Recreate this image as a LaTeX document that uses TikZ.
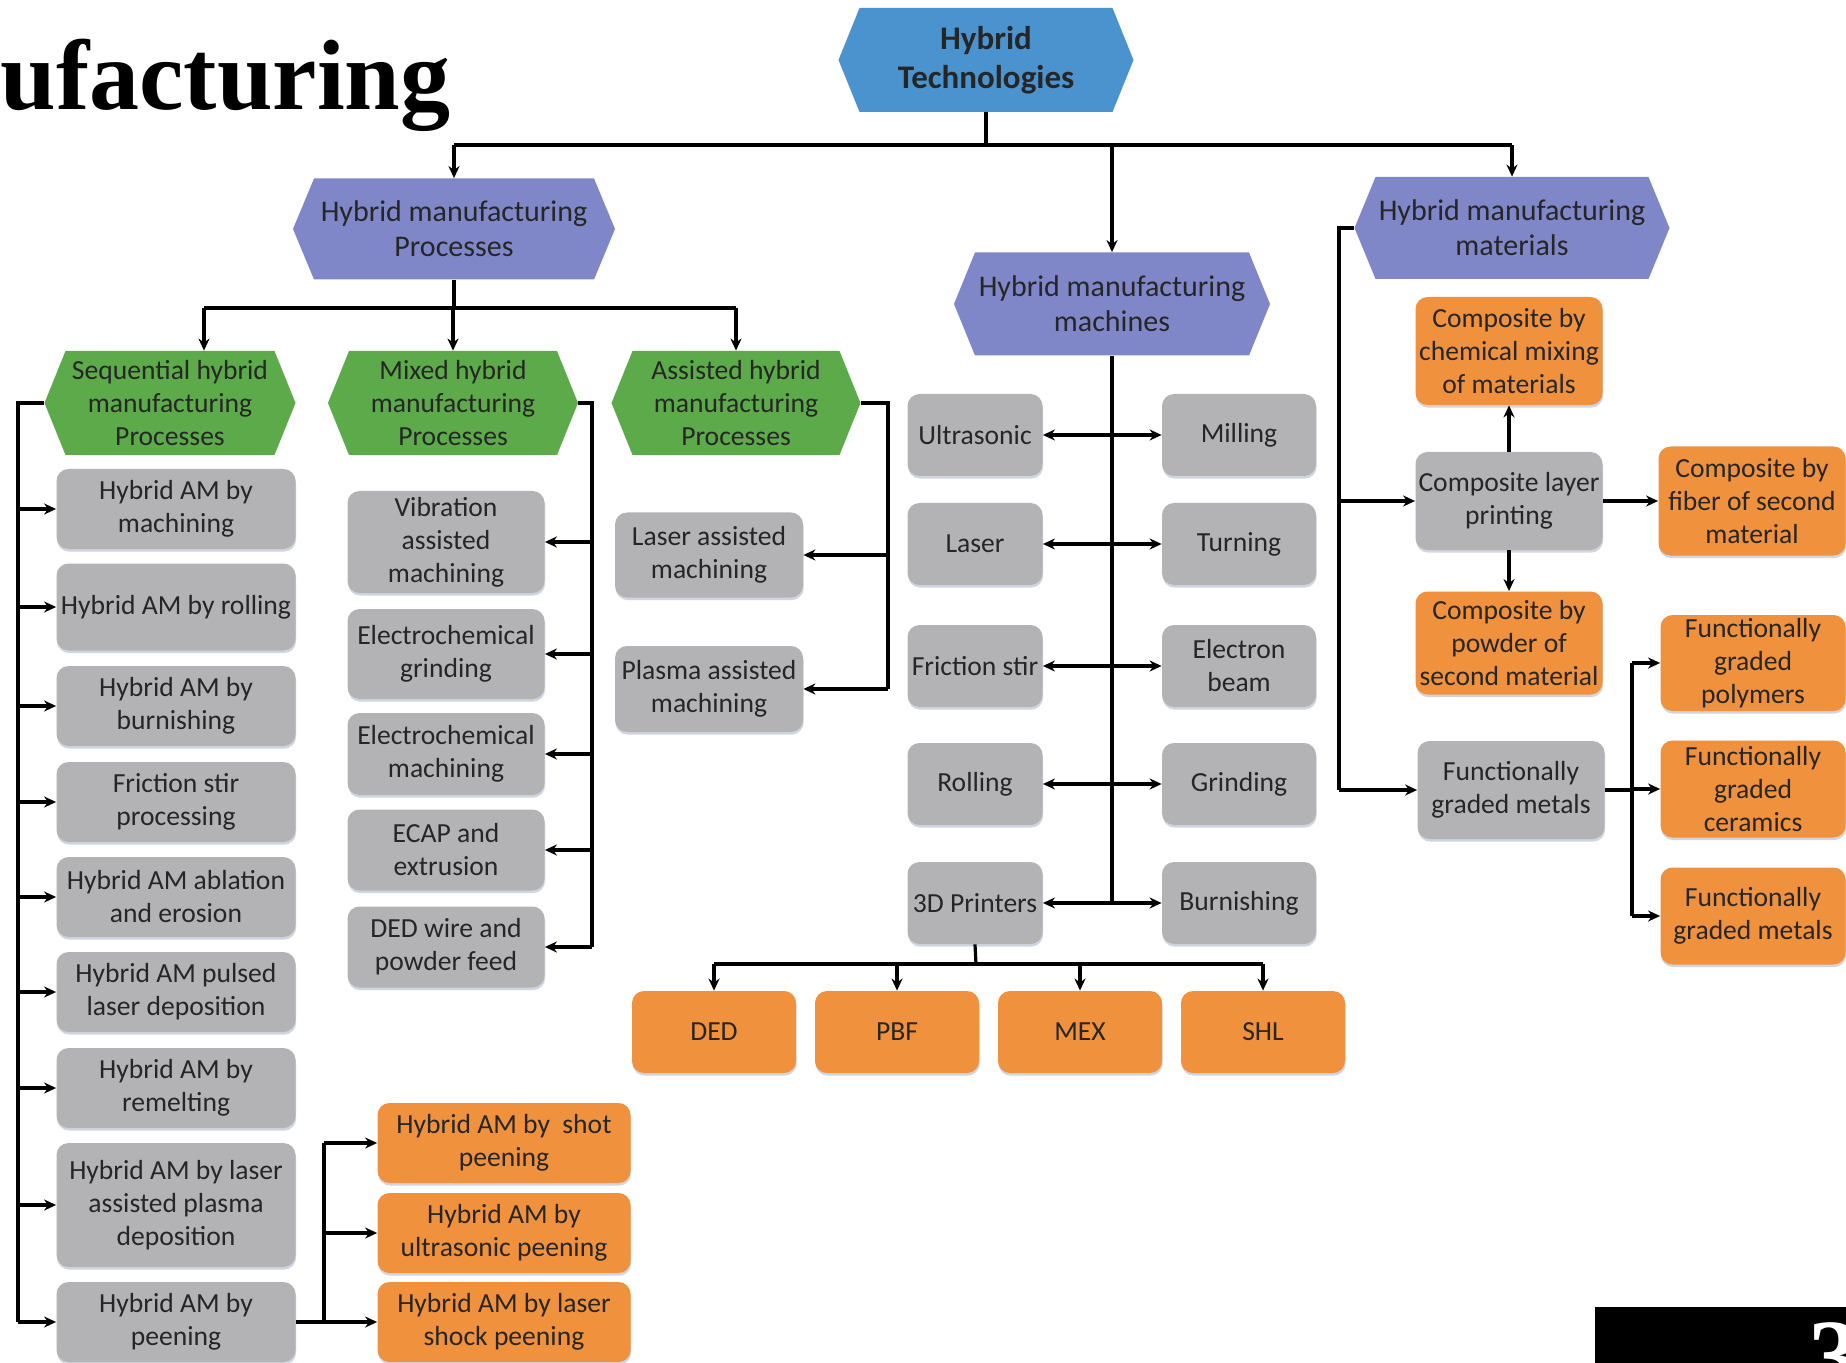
\documentclass[tikz,border=0pt]{standalone}
\usepackage{fontspec}
\setmainfont{Carlito}
\newfontfamily\titlefont{Liberation Serif}
\usetikzlibrary{arrows.meta,shadows}
\definecolor{txt}{HTML}{262626}
\definecolor{boxgray}{HTML}{B3B3B6}
\definecolor{boxorange}{HTML}{F0913D}
\definecolor{htblue}{HTML}{4B93CE}
\definecolor{hpurple}{HTML}{7F87C8}
\definecolor{hgreen}{HTML}{5CAA4A}
\definecolor{shadowc}{HTML}{C5CBD8}
\tikzset{
  bw/.style={minimum width=#1*0.5pt},
  bh/.style={minimum height=#1*0.5pt},
  box/.style={rounded corners=6pt, inner sep=1pt, align=center, text=txt,
    font=\fontsize{13.8}{16.5}\selectfont,
    drop shadow={shadow xshift=0.3pt, shadow yshift=-1.3pt, fill=shadowc, opacity=0.8}},
  gbox/.style={box, fill=boxgray},
  obox/.style={box, fill=boxorange},
  hexa/.style={inner sep=0pt, align=center, text=txt,
    path picture={\fill[#1] ([xshift=10.5pt]path picture bounding box.north west)
      -- ([xshift=-10.5pt]path picture bounding box.north east)
      -- (path picture bounding box.east)
      -- ([xshift=-10.5pt]path picture bounding box.south east)
      -- ([xshift=10.5pt]path picture bounding box.south west)
      -- (path picture bounding box.west) -- cycle;}},
  ln/.style={line width=1.6pt, draw=black},
  arr/.style={ln, -{Stealth[length=6pt,width=5.5pt]}},
  darr/.style={ln, {Stealth[length=6pt,width=5.5pt]}-{Stealth[length=6pt,width=5.5pt]}},
}
\begin{document}
\begin{tikzpicture}[x=0.5pt,y=-0.5pt]
\useasboundingbox[fill=white] (0,0) rectangle (1846,1363);

% title and page number
\node[font=\titlefont\bfseries\fontsize{50}{56}\selectfont, anchor=base east, inner sep=0pt] (title) at (451,110) {Manufacturing};
\node[fill=black, anchor=north west, inner sep=0pt, minimum width=125.5pt, minimum height=28pt] (pgbox) at (1595,1307) {};
\node[text=white, font=\titlefont\bfseries\fontsize{52}{56}\selectfont, anchor=north west, inner sep=0pt] (pnum) at (1808,1322) {3};

% hexagons
\node[hexa=htblue, bw=295, bh=104, font=\bfseries\fontsize{16.5}{19.5}\selectfont] (ht) at (986,60) {Hybrid\\Technologies};
\node[hexa=hpurple, bw=322, bh=101, font=\fontsize{15}{17.5}\selectfont] (proc) at (454,229) {Hybrid manufacturing\\Processes};
\node[hexa=hpurple, bw=316, bh=103, font=\fontsize{15}{17.5}\selectfont] (mach) at (1112,304) {Hybrid manufacturing\\machines};
\node[hexa=hpurple, bw=315, bh=102, font=\fontsize{15}{17.5}\selectfont] (mat) at (1512,228) {Hybrid manufacturing\\materials};
\node[hexa=hgreen, bw=251, bh=104, font=\fontsize{13.8}{16.5}\selectfont] (seq) at (170,403) {Sequential hybrid\\manufacturing\\Processes};
\node[hexa=hgreen, bw=250, bh=104, font=\fontsize{13.8}{16.5}\selectfont] (mix) at (453,403) {Mixed hybrid\\manufacturing\\Processes};
\node[hexa=hgreen, bw=249, bh=104, font=\fontsize{13.8}{16.5}\selectfont] (assist) at (736,403) {Assisted hybrid\\manufacturing\\Processes};

% sequential column
\node[gbox, bw=239, bh=80] (b1) at (176,509) {Hybrid AM by\\machining};
\node[gbox, bw=239, bh=87] (b2) at (176,607) {Hybrid AM by rolling};
\node[gbox, bw=239, bh=80] (b3) at (176,706) {Hybrid AM by\\burnishing};
\node[gbox, bw=239, bh=80] (b4) at (176,802) {Friction stir\\processing};
\node[gbox, bw=239, bh=80] (b5) at (176,897) {Hybrid AM ablation\\and erosion};
\node[gbox, bw=239, bh=80] (b6) at (176,992) {Hybrid AM pulsed\\laser deposition};
\node[gbox, bw=239, bh=80] (b7) at (176,1088) {Hybrid AM by\\remelting};
\node[gbox, bw=239, bh=124] (b8) at (176,1205) {Hybrid AM by laser\\assisted plasma\\deposition};
\node[gbox, bw=239, bh=80] (b9) at (176,1322) {Hybrid AM by\\peening};

% peening
\node[obox, bw=253, bh=80] (p1) at (504,1143) {Hybrid AM by\ \ shot\\peening};
\node[obox, bw=253, bh=80] (p2) at (504,1233) {Hybrid AM by\\ultrasonic peening};
\node[obox, bw=253, bh=80] (p3) at (504,1322) {Hybrid AM by laser\\shock peening};

% mixed column
\node[gbox, bw=197, bh=102] (x1) at (446,542) {Vibration\\assisted\\machining};
\node[gbox, bw=197, bh=90] (x2) at (446,654) {Electrochemical\\grinding};
\node[gbox, bw=197, bh=82] (x3) at (446,754) {Electrochemical\\machining};
\node[gbox, bw=197, bh=81] (x4) at (446,850) {ECAP and\\extrusion};
\node[gbox, bw=197, bh=81] (x5) at (446,947) {DED wire and\\powder feed};

% assisted column
\node[gbox, bw=188, bh=85] (a1) at (709,555) {Laser assisted\\machining};
\node[gbox, bw=188, bh=86] (a2) at (709,689) {Plasma assisted\\machining};

% machines
\node[gbox, bw=135, bh=82] (ml1) at (975,435) {Ultrasonic};
\node[gbox, bw=154, bh=82] (mr1) at (1239,435) {Milling};
\node[gbox, bw=135, bh=82] (ml2) at (975,544) {Laser};
\node[gbox, bw=154, bh=82] (mr2) at (1239,544) {Turning};
\node[gbox, bw=135, bh=82] (ml3) at (975,666) {Friction stir};
\node[gbox, bw=154, bh=82] (mr3) at (1239,666) {Electron\\beam};
\node[gbox, bw=135, bh=82] (ml4) at (975,784) {Rolling};
\node[gbox, bw=154, bh=82] (mr4) at (1239,784) {Grinding};
\node[gbox, bw=135, bh=82] (ml5) at (975,903) {3D Printers};
\node[gbox, bw=154, bh=82] (mr5) at (1239,903) {Burnishing};

\node[obox, bw=164, bh=82] (ded) at (714,1032) {DED};
\node[obox, bw=164, bh=82] (pbf) at (897,1032) {PBF};
\node[obox, bw=164, bh=82] (mex) at (1080,1032) {MEX};
\node[obox, bw=164, bh=82] (shl) at (1263,1032) {SHL};

% materials
\node[gbox, bw=187, bh=98] (clp) at (1509,501) {Composite layer\\printing};
\node[obox, bw=187, bh=108] (chem) at (1509,351) {Composite by\\chemical mixing\\of materials};
\node[obox, bw=187, bh=103] (pow) at (1509,643) {Composite by\\powder of\\second material};
\node[obox, bw=187, bh=109] (fib) at (1752,501) {Composite by\\fiber of second\\material};
\node[gbox, bw=187, bh=98] (fgm) at (1511,790) {Functionally\\graded metals};
\node[obox, bw=185, bh=96] (fp) at (1753,663) {Functionally\\graded\\polymers};
\node[obox, bw=185, bh=97] (fc) at (1753,789) {Functionally\\graded\\ceramics};
\node[obox, bw=185, bh=97] (fm) at (1753,916) {Functionally\\graded metals};

% ---- connectors ----
\coordinate (j1) at (987,145);
\draw[ln] (ht.south) -- (ht.south |- j1);
\draw[ln] (proc.north |- j1) -- (mat.north |- j1);
\draw[arr] (proc.north |- j1) -- (proc.north);
\draw[arr] (mach.north |- j1) -- (mach.north);
\draw[arr] (mat.north |- j1) -- (mat.north);

\coordinate (j2) at (454,308);
\draw[ln] (proc.south) -- (j2);
\draw[ln] ([xshift=17pt]seq.north |- j2) -- (assist.north |- j2);
\draw[arr] ([xshift=17pt]seq.north |- j2) -- ([xshift=17pt]seq.north);
\draw[arr] (mix.north |- j2) -- (mix.north);
\draw[arr] (assist.north |- j2) -- (assist.north);

\coordinate (sl) at (18,403);
\draw[ln] (seq.west) -- (sl) -- (sl |- b9.west);
\foreach \b in {b1,b2,b3,b4,b5,b6,b7,b8,b9}
  \draw[arr] (sl |- \b.west) -- (\b.west);

\coordinate (pj) at (324,1322);
\draw[ln] (b9.east) -- (pj) -- (pj |- p1.west);
\foreach \p in {p1,p2,p3}
  \draw[arr] (pj |- \p.west) -- (\p.west);

\coordinate (mr) at (592,403);
\draw[ln] (mix.east) -- (mr) -- (mr |- x5.east);
\foreach \x in {x1,x2,x3,x4,x5}
  \draw[arr] (mr |- \x.east) -- (\x.east);

\coordinate (ar) at (888,403);
\draw[ln] (assist.east) -- (ar) -- (ar |- a2.east);
\foreach \a in {a1,a2}
  \draw[arr] (ar |- \a.east) -- (\a.east);

\draw[ln] (mach.south) -- (mach.south |- ml5.east);
\foreach \i in {1,2,3,4,5}
  \draw[darr] (ml\i.east) -- (mr\i.west);

\coordinate (dj) at (976,964);
\draw[ln] (ml5.south) -- (dj);
\draw[ln] (ded.north |- dj) -- (shl.north |- dj);
\foreach \o in {ded,pbf,mex,shl}
  \draw[arr] (\o.north |- dj) -- (\o.north);

\coordinate (matl) at (1339,228);
\draw[ln] (mat.west) -- (matl) -- (matl |- fgm.west);
\draw[arr] (matl |- clp.west) -- (clp.west);
\draw[arr] (matl |- fgm.west) -- (fgm.west);
\draw[arr] (clp.north) -- (chem.south);
\draw[arr] (clp.south) -- (pow.north);
\draw[arr] (clp.east) -- (fib.west);

\coordinate (fj) at (1632,790);
\draw[ln] (fgm.east) -- (fj);
\draw[ln] (fj |- fp.west) -- (fj |- fm.west);
\foreach \f in {fp,fc,fm}
  \draw[arr] (fj |- \f.west) -- (\f.west);
\end{tikzpicture}
\end{document}
